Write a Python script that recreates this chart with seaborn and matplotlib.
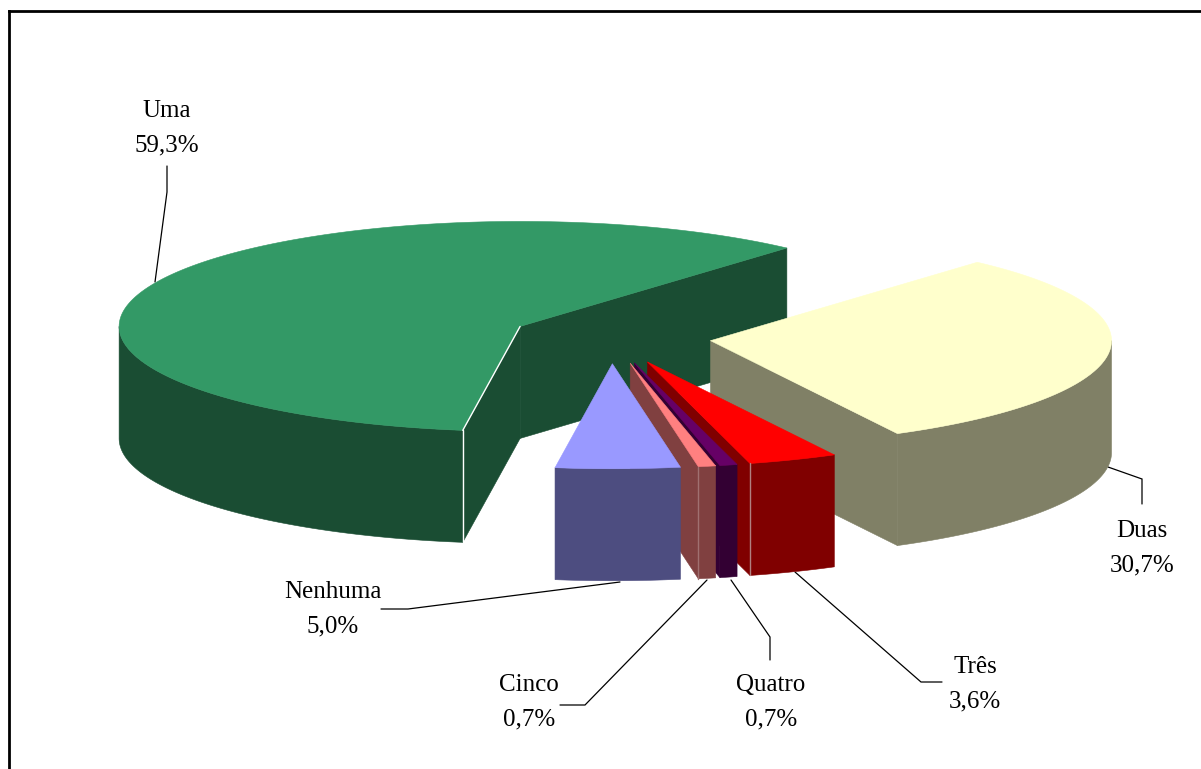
import numpy as np
import matplotlib
matplotlib.use("Agg")
import matplotlib.pyplot as plt
import seaborn as sns

# ---- data, clockwise from the Duas slice ----
categories = ["Duas", "Três", "Quatro", "Cinco", "Nenhuma", "Uma"]
shares = [30.7, 3.6, 0.7, 0.7, 5.0, 59.3]

# ---- styles ----
top_colors = ["#ffffcc", "#ff0000", "#660066", "#ff8080", "#9999ff", "#339966"]
side_colors = ["#808066", "#800000", "#330033", "#804040", "#4d4d80", "#1a4d33"]
seam_colors = [None, "#b08080", None, "#a07070", None, "#ffffff"]
draw_rank = [1, 2, 3, 4, 5, 0]

# ---- layout (pixels) ----
W, H = 1201, 769
CX, CY, RX, RY, DEPTH = 611, 337.5, 401, 105, 112
EXPLODE = 0.25
START = 48.3
label_pos = {"Uma": (167, 111), "Duas": (1142, 531), "Três": (975, 667),
             "Quatro": (771, 685), "Cinco": (529, 685), "Nenhuma": (333, 592)}
LINE_GAP = 34
leaders = {"Uma": [(167, 166), (167, 192), (155, 282)],
           "Duas": [(1108, 467), (1142, 479), (1142, 504)],
           "Três": [(795, 572), (921, 682), (942, 682)],
           "Quatro": [(731, 580), (770, 637), (770, 660)],
           "Cinco": [(707, 580), (585, 705), (560, 705)],
           "Nenhuma": [(620, 582), (408, 609), (381, 609)]}

sns.set_theme(style="white")
plt.rcParams["font.family"] = ["Liberation Serif", "DejaVu Serif"]
fig, ax = plt.subplots(figsize=(W / 100, H / 100), dpi=100)
fig.subplots_adjust(0, 0, 1, 1)
ax.set_xlim(0, W)
ax.set_ylim(H, 0)
ax.axis("off")


def pt(cx, cy, deg):
    a = np.radians(deg)
    return cx + RX * np.cos(a), cy - RY * np.sin(a)


def poly(xs, ys, color, z):
    ax.fill(xs, ys, facecolor=color, edgecolor=color, lw=0.4, zorder=z, joinstyle="round")


angle = START
total = sum(shares)
for i, (share, top, side) in enumerate(zip(shares, top_colors, side_colors)):
    a0 = angle
    a1 = angle - share / total * 360
    angle = a1
    mid = np.radians((a0 + a1) / 2)
    ax0 = CX + EXPLODE * RX * np.cos(mid)
    ay0 = CY - EXPLODE * RY * np.sin(mid)
    z = 2 + draw_rank[i]
    # cut walls visible to the viewer
    for edge, sign in ((a0, -1), (a1, 1)):
        if sign * np.cos(np.radians(edge)) > 0:
            ex, ey = pt(ax0, ay0, edge)
            poly([ax0, ex, ex, ax0], [ay0, ey, ey + DEPTH, ay0 + DEPTH], side, z)
    # outer rim, front half only
    hi = min(a0, 0)
    lo = max(a1, -180)
    if hi > lo:
        t = np.linspace(hi, lo, 120)
        xs, ys = pt(ax0, ay0, t)
        poly(np.r_[xs, xs[::-1]], np.r_[ys, ys[::-1] + DEPTH], side, z)
    # thin light seam at the front corner
    if seam_colors[i]:
        corner = a0 if categories[i] == "Uma" else a1
        ex, ey = pt(ax0, ay0, corner)
        ax.plot([ex, ex], [ey, ey + DEPTH], color=seam_colors[i], lw=1.0, zorder=z + 0.5)
        if categories[i] == "Uma":
            ax.plot([ax0, ex], [ay0, ey], color=seam_colors[i], lw=1.0, zorder=z + 0.6)
    # top face
    t = np.linspace(a0, a1, 300)
    xs, ys = pt(ax0, ay0, t)
    poly(np.r_[ax0, xs], np.r_[ay0, ys], top, z + 0.3)

# labels and leader lines
for name, share in zip(categories, shares):
    x, y = label_pos[name]
    pct = f"{share:.1f}".replace(".", ",") + "%"
    ax.text(x, y, name, ha="center", va="center", fontsize=18, color="#000000")
    ax.text(x, y + LINE_GAP, pct, ha="center", va="center", fontsize=18, color="#000000")
    lx, ly = zip(*leaders[name])
    ax.plot(lx, ly, color="#000000", lw=0.9, zorder=1, solid_joinstyle="miter")

# outer frame: left and top rules only
ax.plot([9, 9], [H, 11], color="#000000", lw=2, zorder=20, solid_capstyle="projecting")
ax.plot([9, W], [11, 11], color="#000000", lw=2, zorder=20, solid_capstyle="projecting")

fig.savefig("out.png", dpi=100, facecolor="white")
